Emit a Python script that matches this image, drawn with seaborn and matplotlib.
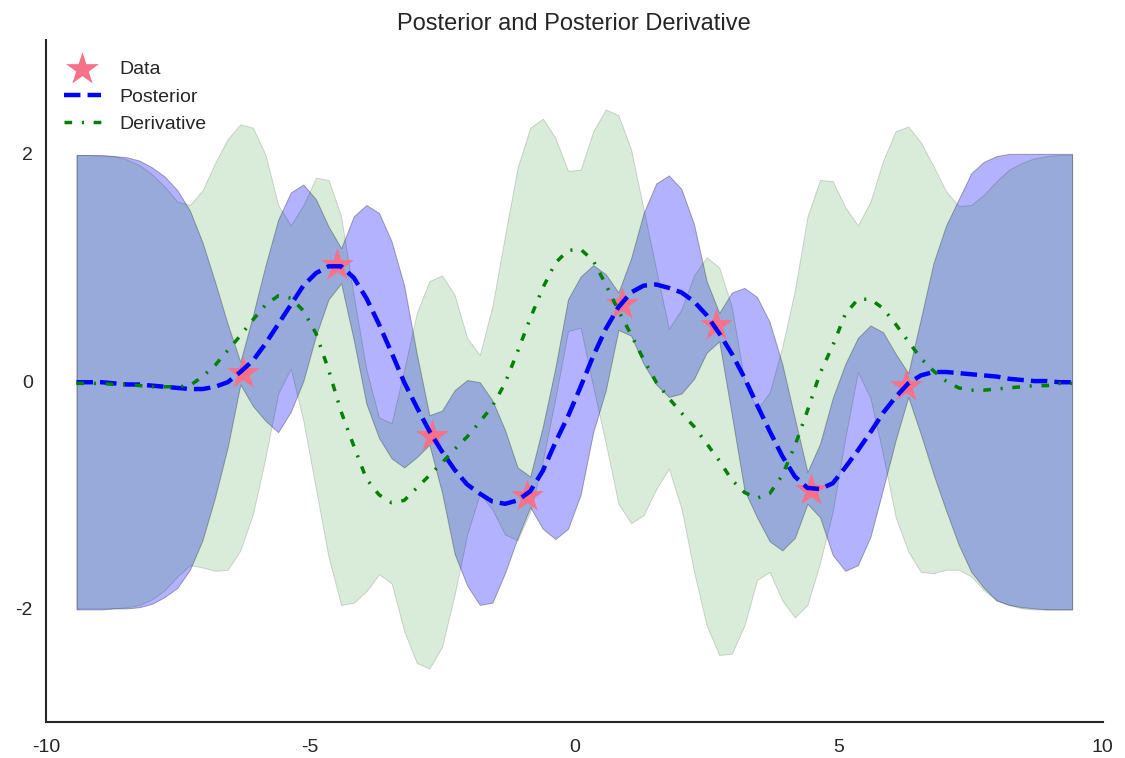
import numpy as np
import matplotlib
matplotlib.use("Agg")
import matplotlib.pyplot as plt
import seaborn as sns

sns.set_style("white")
plt.rcParams["font.family"] = ["Liberation Sans", "DejaVu Sans"]
plt.rcParams["axes.edgecolor"] = ".15"
plt.rcParams["axes.linewidth"] = 1.5
plt.rcParams["axes.unicode_minus"] = False

# evaluation grid for the posterior and its derivative
x_grid = np.linspace(-3 * np.pi, 3 * np.pi, 80)

# observations
x_obs = [-6.28, -4.49, -2.69, -0.90, 0.90, 2.69, 4.49, 6.28]
y_obs = [0.07, 1.02, -0.48, -1.01, 0.68, 0.49, -0.96, -0.04]

# posterior mean and its band
post_mean = [
    -0.01, -0.01, -0.01, -0.02, -0.03, -0.03, -0.04, -0.05, -0.06, -0.07,
    -0.07, -0.05, -0.01, 0.08, 0.18, 0.33, 0.50, 0.67, 0.84, 0.95,
    1.01, 1.01, 0.91, 0.73, 0.50, 0.25, -0.01, -0.23, -0.44, -0.62,
    -0.78, -0.91, -0.99, -1.06, -1.08, -1.05, -0.97, -0.79, -0.54, -0.31,
    -0.05, 0.22, 0.46, 0.65, 0.78, 0.84, 0.85, 0.82, 0.78, 0.70,
    0.58, 0.42, 0.24, 0.03, -0.21, -0.44, -0.66, -0.84, -0.94, -0.95,
    -0.90, -0.76, -0.61, -0.45, -0.28, -0.14, -0.02, 0.05, 0.08, 0.08,
    0.07, 0.06, 0.05, 0.04, 0.02, 0.01, 0.00, 0.00, -0.01, -0.01,
]
post_upper = [
    1.99, 1.99, 1.99, 1.98, 1.97, 1.94, 1.88, 1.80, 1.68, 1.50,
    1.22, 0.87, 0.50, 0.17, 0.58, 1.02, 1.42, 1.66, 1.73, 1.60,
    1.36, 1.17, 1.45, 1.55, 1.48, 1.23, 0.84, 0.24, -0.30, -0.26,
    -0.08, 0.01, -0.01, -0.17, -0.43, -0.76, -0.84, -0.40, 0.12, 0.72,
    0.92, 1.02, 0.94, 0.78, 1.08, 1.48, 1.74, 1.81, 1.69, 1.38,
    0.88, 0.60, 0.78, 0.82, 0.74, 0.52, 0.15, -0.33, -0.80, -0.55,
    -0.15, 0.15, 0.38, 0.49, 0.43, 0.24, 0.07, 0.55, 1.04, 1.37,
    1.60, 1.83, 1.93, 1.98, 2.00, 2.00, 2.00, 2.00, 2.00, 2.00,
]
post_lower = [
    -2.01, -2.01, -2.01, -2.00, -2.00, -1.99, -1.96, -1.90, -1.82, -1.66,
    -1.40, -1.02, -0.58, -0.03, -0.22, -0.35, -0.45, -0.27, 0.00, 0.40,
    0.72, 0.86, 0.36, -0.20, -0.50, -0.68, -0.76, -0.67, -0.56, -0.98,
    -1.52, -1.80, -1.97, -1.95, -1.69, -1.38, -1.11, -1.30, -1.39, -1.30,
    -1.00, -0.45, -0.08, 0.45, 0.40, 0.15, -0.03, -0.14, -0.11, 0.02,
    0.25, 0.35, -0.30, -0.96, -1.20, -1.41, -1.49, -1.38, -1.08, -1.20,
    -1.53, -1.67, -1.62, -1.37, -0.95, -0.52, -0.14, -0.47, -0.82, -1.14,
    -1.44, -1.68, -1.82, -1.93, -1.97, -1.99, -2.00, -2.01, -2.01, -2.01,
]

# derivative of the posterior mean and its band
deriv_mean = [
    -0.02, -0.02, -0.02, -0.03, -0.03, -0.04, -0.05, -0.05, -0.05, -0.04,
    0.04, 0.14, 0.27, 0.40, 0.54, 0.67, 0.75, 0.73, 0.62, 0.42,
    0.10, -0.27, -0.57, -0.86, -1.00, -1.07, -1.05, -0.94, -0.83, -0.72,
    -0.60, -0.49, -0.36, -0.22, -0.02, 0.26, 0.55, 0.82, 1.04, 1.15,
    1.16, 1.06, 0.85, 0.62, 0.41, 0.19, -0.01, -0.15, -0.28, -0.40,
    -0.55, -0.70, -0.87, -0.98, -1.03, -0.99, -0.83, -0.57, -0.26, 0.07,
    0.31, 0.59, 0.72, 0.72, 0.64, 0.50, 0.35, 0.20, 0.09, 0.00,
    -0.06, -0.08, -0.08, -0.07, -0.06, -0.05, -0.04, -0.04, -0.02, -0.02,
]
deriv_upper = [
    1.99, 1.99, 1.98, 1.98, 1.95, 1.90, 1.82, 1.71, 1.58, 1.55,
    1.68, 1.92, 2.13, 2.26, 2.23, 1.99, 1.55, 1.37, 1.55, 1.79,
    1.77, 1.45, 0.75, 0.10, -0.32, -0.37, 0.10, 0.60, 0.88, 0.93,
    0.76, 0.38, 0.23, 0.66, 1.28, 1.88, 2.23, 2.31, 2.14, 1.85,
    1.86, 2.20, 2.39, 2.34, 2.04, 1.51, 0.98, 0.46, 0.63, 0.93,
    1.09, 1.00, 0.65, 0.00, -0.25, -0.10, 0.30, 0.80, 1.45, 1.77,
    1.76, 1.53, 1.37, 1.58, 1.94, 2.20, 2.24, 2.10, 1.89, 1.67,
    1.54, 1.55, 1.64, 1.76, 1.86, 1.92, 1.96, 1.98, 1.99, 1.99,
]
deriv_lower = [
    -2.00, -2.00, -2.00, -2.00, -1.99, -1.97, -1.92, -1.84, -1.72, -1.62,
    -1.64, -1.67, -1.66, -1.49, -1.17, -0.67, -0.11, 0.11, -0.35, -0.95,
    -1.55, -1.97, -1.95, -1.85, -1.70, -1.78, -2.20, -2.48, -2.53, -2.34,
    -1.88, -1.35, -0.99, -1.13, -1.35, -1.40, -1.15, -0.70, -0.15, 0.44,
    0.47, -0.05, -0.55, -1.08, -1.25, -1.18, -0.95, -0.77, -1.12, -1.68,
    -2.15, -2.41, -2.40, -2.15, -1.75, -1.68, -1.93, -2.08, -1.97, -1.60,
    -1.15, -0.50, 0.08, -0.15, -0.65, -1.20, -1.50, -1.68, -1.69, -1.66,
    -1.66, -1.72, -1.84, -1.93, -1.97, -2.00, -2.01, -2.01, -2.01, -2.01,
]

fig = plt.figure(figsize=(11.25, 7.58), dpi=100)
ax = fig.add_axes([0.041, 0.0475, 0.939, 0.8995])

ax.fill_between(x_grid, post_lower, post_upper, facecolor="blue",
                edgecolor="k", alpha=0.3, linewidth=0.7, zorder=1)
ax.fill_between(x_grid, deriv_lower, deriv_upper, facecolor="green",
                edgecolor="k", alpha=0.15, linewidth=0.7, zorder=1)

sns.scatterplot(x=x_obs, y=y_obs, marker="*", s=620, color="#F77189",
                linewidth=0, label="Data", ax=ax, zorder=2)
sns.lineplot(x=x_grid, y=post_mean, color="blue", linestyle="--",
             linewidth=3.2, label="Posterior", ax=ax, zorder=3)
sns.lineplot(x=x_grid, y=deriv_mean, color="green",
             linestyle=(0, (2.2, 2.8, 0.6, 2.8)), linewidth=2.5,
             label="Derivative", ax=ax, zorder=3)

ax.set_xlim(-10, 10)
ax.set_ylim(-3, 3)
ax.set_xticks([-10, -5, 0, 5, 10])
ax.set_yticks([-2, 0, 2])
ax.tick_params(axis="both", labelsize=14, colors=".15", length=0)
ax.tick_params(axis="x", pad=12)
ax.tick_params(axis="y", pad=9.5)
ax.set_title("Posterior and Posterior Derivative", fontsize=17,
             color=".15", pad=7.5)
sns.despine(ax=ax)

handles, labels = ax.get_legend_handles_labels()
order = [labels.index(n) for n in ["Data", "Posterior", "Derivative"]]
ax.legend([handles[i] for i in order], [labels[i] for i in order],
          loc="upper left", bbox_to_anchor=(0.0095, 0.9815),
          borderaxespad=0, frameon=False, fontsize=14, handlelength=1.9,
          handletextpad=0.95)

fig.savefig("out.png", dpi=100)
